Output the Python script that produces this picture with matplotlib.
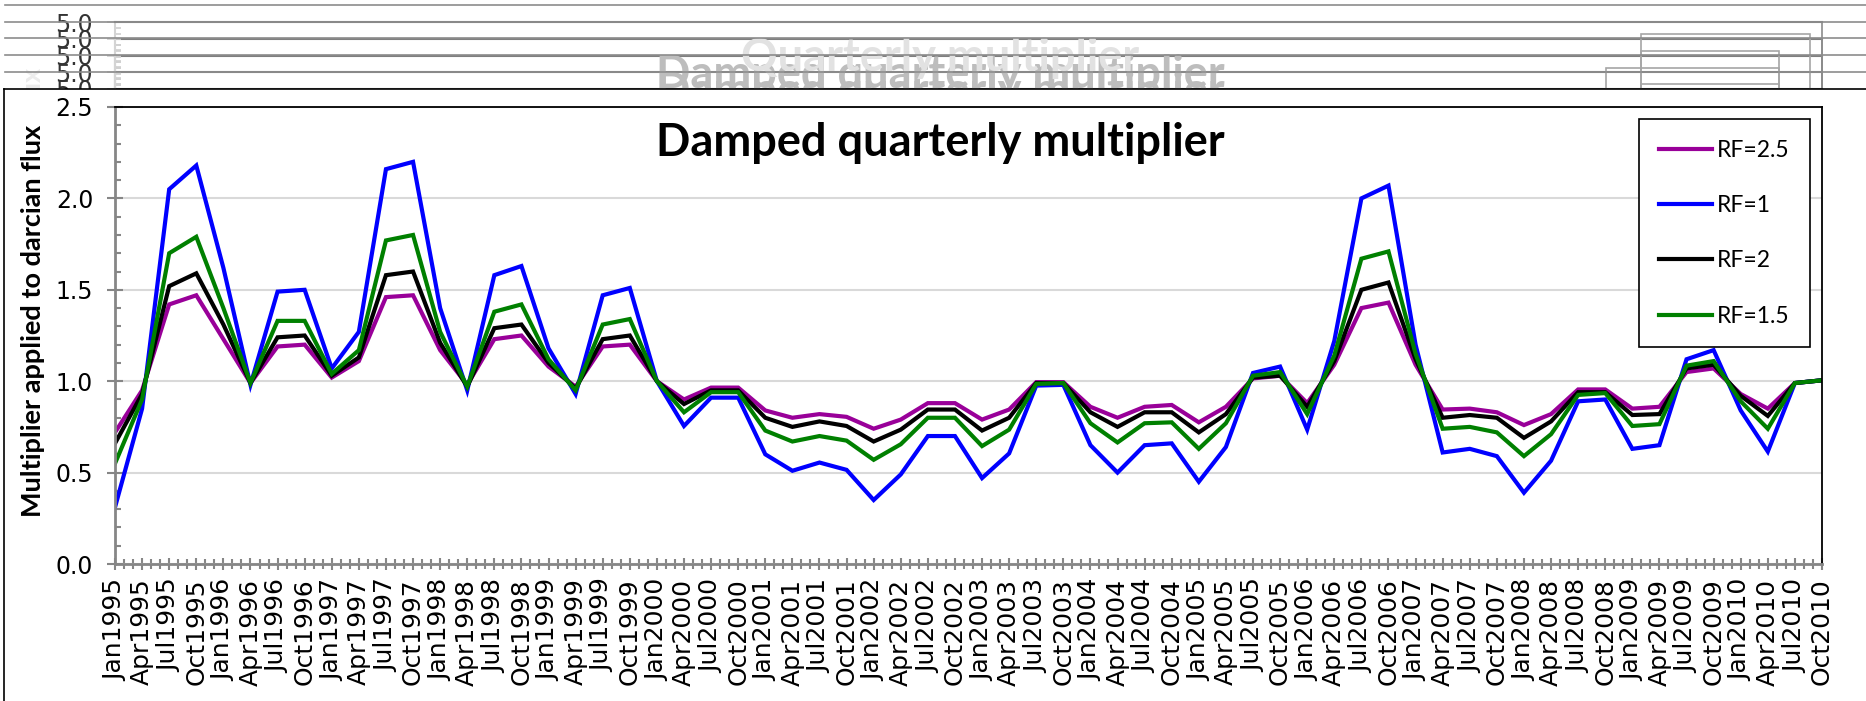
import numpy as np
import matplotlib.pyplot as plt
from matplotlib.lines import Line2D
from matplotlib.patches import Rectangle
from matplotlib.ticker import MultipleLocator, FormatStrFormatter

W, H = 1866, 701

# quarterly categories
months = ['Jan', 'Apr', 'Jul', 'Oct']
years = list(range(1995, 2011))
quarters = [m + str(y) for y in years for m in months]

# values
rf25 = [0.72, 0.95, 1.42, 1.47, 1.23, 0.99, 1.19, 1.20, 1.02, 1.11, 1.46, 1.47, 1.17, 0.98, 1.23, 1.25,
        1.08, 0.97, 1.19, 1.20, 1.00, 0.90, 0.965, 0.965, 0.84, 0.80, 0.82, 0.805, 0.74, 0.79, 0.88, 0.88,
        0.79, 0.845, 0.995, 0.995, 0.86, 0.80, 0.86, 0.87, 0.775, 0.86, 1.015, 1.03, 0.88, 1.09, 1.40, 1.43,
        1.09, 0.845, 0.85, 0.83, 0.76, 0.82, 0.955, 0.955, 0.85, 0.86, 1.05, 1.07, 0.93, 0.85, 0.99, 1.005]
rf1 = [0.31, 0.85, 2.05, 2.18, 1.62, 0.98, 1.49, 1.50, 1.07, 1.27, 2.16, 2.20, 1.40, 0.95, 1.58, 1.63,
       1.18, 0.93, 1.47, 1.51, 1.00, 0.755, 0.91, 0.91, 0.60, 0.51, 0.555, 0.515, 0.35, 0.49, 0.70, 0.70,
       0.47, 0.605, 0.976, 0.98, 0.65, 0.50, 0.65, 0.66, 0.45, 0.64, 1.045, 1.08, 0.735, 1.22, 2.00, 2.07,
       1.20, 0.61, 0.63, 0.59, 0.39, 0.565, 0.89, 0.90, 0.63, 0.65, 1.12, 1.17, 0.84, 0.615, 0.99, 1.005]
rf2 = [0.66, 0.93, 1.52, 1.59, 1.31, 0.99, 1.24, 1.25, 1.03, 1.13, 1.58, 1.60, 1.21, 0.97, 1.29, 1.31,
       1.10, 0.96, 1.23, 1.25, 1.00, 0.875, 0.95, 0.95, 0.80, 0.75, 0.78, 0.755, 0.67, 0.735, 0.845, 0.845,
       0.73, 0.80, 0.99, 0.99, 0.83, 0.75, 0.83, 0.83, 0.72, 0.82, 1.02, 1.03, 0.86, 1.11, 1.50, 1.54,
       1.12, 0.80, 0.815, 0.80, 0.69, 0.78, 0.94, 0.94, 0.815, 0.82, 1.07, 1.09, 0.92, 0.81, 0.99, 1.005]
rf15 = [0.55, 0.90, 1.70, 1.79, 1.40, 0.99, 1.33, 1.33, 1.04, 1.17, 1.77, 1.80, 1.27, 0.97, 1.38, 1.42,
        1.12, 0.95, 1.31, 1.34, 1.00, 0.83, 0.94, 0.94, 0.73, 0.67, 0.70, 0.675, 0.57, 0.655, 0.80, 0.80,
        0.645, 0.735, 0.985, 0.99, 0.77, 0.665, 0.77, 0.775, 0.63, 0.77, 1.03, 1.05, 0.82, 1.14, 1.67, 1.71,
        1.15, 0.74, 0.75, 0.72, 0.59, 0.71, 0.925, 0.935, 0.755, 0.765, 1.085, 1.11, 0.89, 0.74, 0.99, 1.005]

labels = ['RF=2.5', 'RF=1', 'RF=2', 'RF=1.5']
colors = ['#990099', '#0000ff', '#000000', '#008000']

title = 'Damped quarterly multiplier'
ylabel = 'Multiplier applied to darcian flux'


def box(l, t, r, b):
    # pixel box -> figure fraction
    return [l / W, 1 - b / H, (r - l) / W, (b - t) / H]


fig = plt.figure(figsize=(W / 100, H / 100), dpi=100)

# stacked ghost charts peeking out above the front one
back_tops = [89, 72.4, 55.7, 39, 22.3]
back_titles = ['', '', title, title, 'Quarterly multiplier']
back_title_cols = ['#c0c0c0', '#c0c0c0', '#bdbdbd', '#bdbdbd', '#e2e2e2']
back_legends = [(1641, 1779), (1641, 1779), (1606, 1779), (1641, 1779), (1641, 1810)]

for T, ttl, tc, (ll, lr) in zip(back_tops, back_titles, back_title_cols, back_legends):
    bx = fig.add_axes(box(115, T, 1822, T + 457), zorder=0)
    bx.set_facecolor('none')
    bx.set_xlim(0, 1)
    bx.set_ylim(0, 5)
    bx.set_xticks([])
    bx.yaxis.set_major_locator(MultipleLocator(1))
    bx.yaxis.set_minor_locator(MultipleLocator(1 / 16))
    bx.yaxis.set_major_formatter(FormatStrFormatter('%.1f'))
    bx.tick_params(axis='y', which='major', direction='inout', length=11.5, width=1.2,
                   color='#d0d0d0', labelsize=17, labelcolor='#333333', pad=10)
    bx.tick_params(axis='y', which='minor', direction='in', length=4.3, width=1.2, color='#d0d0d0')
    bx.spines['bottom'].set_visible(False)
    bx.spines['left'].set_color('#d4d4d4')
    bx.spines['left'].set_linewidth(1.5)
    bx.spines['top'].set_color('#7f7f7f')
    bx.spines['top'].set_linewidth(1.5)
    bx.spines['right'].set_color('#8c8c8c')
    bx.spines['right'].set_linewidth(1.2)
    bx.set_ylabel(ylabel, fontsize=19.5, fontweight='bold', family='Lato', color='#ececec')
    bx.yaxis.set_label_coords((45 - 115) / 1707, 0.471)
    if ttl:
        fig.text(940 / W, 1 - (T + 36) / H, ttl, ha='center', va='center', fontsize=32.5,
                 fontweight='bold', family='Lato', color=tc, zorder=0.2)
    fig.add_artist(Rectangle((ll / W, 1 - (T + 12 + 223) / H), (lr - ll) / W, 223 / H,
                             transform=fig.transFigure, fill=False, ec='#a6a6a6', lw=1.2, zorder=0.3))
    fig.add_artist(Line2D([5 / W, 1], [1 - (T - 17.5) / H] * 2, transform=fig.transFigure,
                          color='#8c8c8c', lw=1.2, zorder=0.4))

# front chart area
frame = fig.add_axes(box(4, 89, 1950, 780), zorder=1)
frame.set_facecolor('white')
frame.set_xticks([])
frame.set_yticks([])
for s in frame.spines.values():
    s.set_color('black')
    s.set_linewidth(1.2)

ax = fig.add_axes(box(115, 107, 1822, 564), zorder=2)
x = np.arange(len(quarters))
for lab, vals, col in zip(labels, [rf25, rf1, rf2, rf15], colors):
    ax.plot(x, vals, color=col, lw=3, label=lab, solid_joinstyle='miter')

ax.set_xlim(0, len(quarters) - 1)
ax.set_ylim(0, 2.5)
ax.set_xticks(x)
ax.set_xticklabels(quarters, rotation=90, fontsize=18)
ax.xaxis.set_minor_locator(MultipleLocator(1 / 3))
ax.yaxis.set_major_locator(MultipleLocator(0.5))
ax.yaxis.set_minor_locator(MultipleLocator(0.1))
ax.yaxis.set_major_formatter(FormatStrFormatter('%.1f'))
ax.tick_params(axis='y', which='major', direction='inout', length=11.5, width=1.5,
               color='#868686', labelsize=17, pad=10)
ax.tick_params(axis='y', which='minor', direction='in', length=4.3, width=1.5, color='#868686')
ax.tick_params(axis='x', which='major', direction='inout', length=9, width=1.5,
               color='#868686', pad=6)
ax.tick_params(axis='x', which='minor', direction='inout', length=7, width=1.5, color='#868686')
ax.grid(axis='y', color='#d9d9d9', lw=1.5)
ax.set_axisbelow(True)
for side in ['top', 'right']:
    ax.spines[side].set_color('black')
    ax.spines[side].set_linewidth(1.3)
for side in ['left', 'bottom']:
    ax.spines[side].set_color('#868686')
    ax.spines[side].set_linewidth(2)

ax.set_ylabel(ylabel, fontsize=19.5, fontweight='bold', family='Lato')
ax.yaxis.set_label_coords((45 - 115) / 1707, 0.532)

fig.text(940 / W, 1 - 143 / H, title, ha='center', va='center', fontsize=32.5,
         fontweight='bold', family='Lato', zorder=3)

leg = ax.legend(loc='upper right', bbox_to_anchor=((1810 - 115) / 1707, (564 - 119) / 457),
                borderaxespad=0, prop={'family': 'Lato', 'size': 16.5}, handlelength=2.3,
                handletextpad=0.2, labelspacing=1.5, borderpad=0.9, fancybox=False,
                framealpha=1, edgecolor='black')
leg.get_frame().set_linewidth(1.2)

fig.savefig('out.png', dpi=100)
